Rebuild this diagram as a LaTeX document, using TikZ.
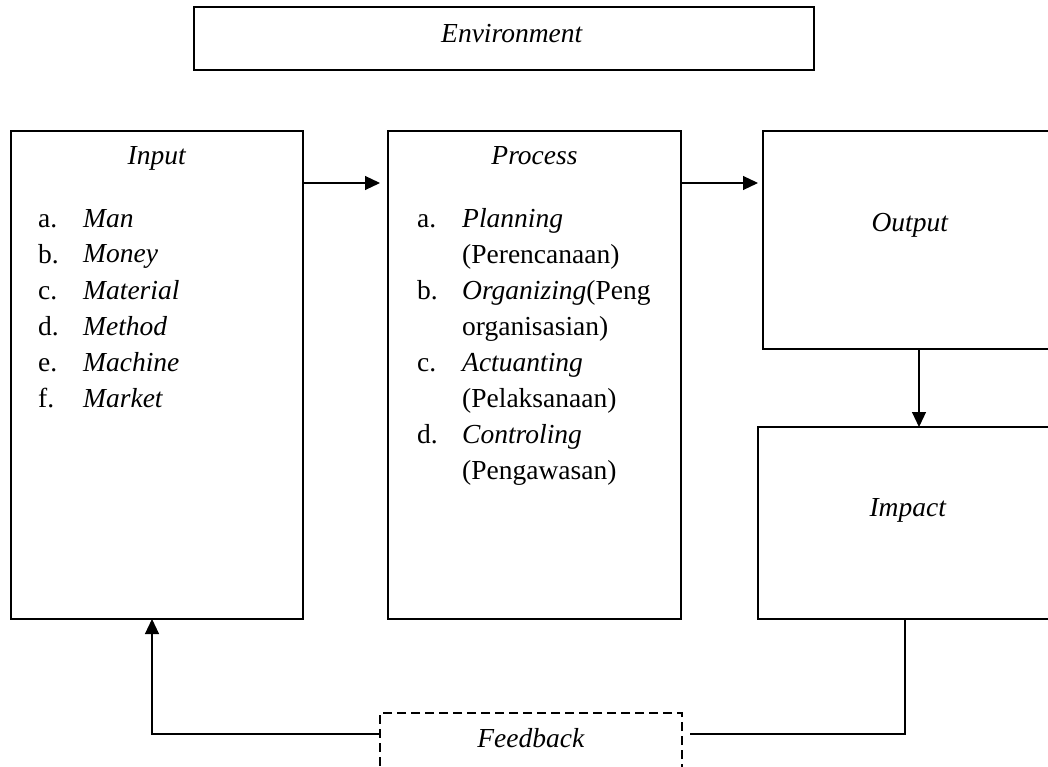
\documentclass[tikz,border=0pt]{standalone}
\usepackage{fontspec}
\setmainfont{Liberation Serif}
\usetikzlibrary{arrows.meta,positioning}

\begin{document}
\begin{tikzpicture}[x=1pt,y=-1pt,every node/.style={font=\fontsize{27.5}{36}\selectfont},
    sysbox/.style={draw,line width=1.3pt,minimum width=294pt,inner sep=0pt,outer sep=0pt},
    arr/.style={-{Triangle[length=15pt,width=14pt]},line width=1.1pt},
    lst/.style={anchor=base west,inner sep=0pt,align=left}]
  \useasboundingbox (0,0) rectangle (1048,767);
  % boxes
  \node[sysbox,minimum width=620pt,minimum height=63pt] (env) at (504,38.5) {};
  \node[sysbox,minimum width=292pt,minimum height=488pt,anchor=north west] (inbox) at (11,131) {};
  \node[sysbox,minimum width=293pt,minimum height=488pt,right=85pt of inbox] (prbox) {};
  \node[sysbox,minimum height=218pt,right=82pt of prbox.north east,anchor=north west] (outbox) {};
  \node[sysbox,minimum height=192pt,right=77pt of prbox.south east,anchor=south west] (impbox) {};
  \node[sysbox,dash pattern=on 9pt off 5pt,minimum width=302pt,minimum height=80pt,
        below=94pt of prbox.south west,anchor=north west,xshift=-8pt] (fbbox) {};
  % texts
  \node[anchor=base] (envtxt) at ([xshift=8pt,yshift=-36pt]env.north) {\textit{Environment}};
  \node[anchor=base] (intxt)  at ([yshift=-34pt]inbox.north) {\textit{Input}};
  \node[anchor=base] (prtxt)  at ([yshift=-34pt]prbox.north) {\textit{Process}};
  \node[anchor=base] (outtxt) at ([yshift=-100pt]outbox.north) {\textit{Output}};
  \node[anchor=base] (imptxt) at ([xshift=3pt,yshift=-89pt]impbox.north) {\textit{Impact}};
  \node[anchor=base] (fbtxt)  at ([yshift=-34pt]fbbox.north) {\textit{Feedback}};
  \node[lst] (inlist) at ([xshift=27pt,yshift=-96pt]inbox.north west)
    {\begin{tabular}[t]{@{}p{45pt}@{}l@{}}
       a. & \textit{Man}\\
       b. & \textit{Money}\\
       c. & \textit{Material}\\
       d. & \textit{Method}\\
       e. & \textit{Machine}\\
       f. & \textit{Market}
     \end{tabular}};
  \node[lst] (prlist) at ([xshift=29pt,yshift=-96pt]prbox.north west)
    {\begin{tabular}[t]{@{}p{45pt}@{}l@{}}
       a. & \textit{Planning}\\
          & (Perencanaan)\\
       b. & \textit{Organizing}(Peng\\
          & organisasian)\\
       c. & \textit{Actuanting}\\
          & (Pelaksanaan)\\
       d. & \textit{Controling}\\
          & (Pengawasan)
     \end{tabular}};
  % connectors
  \draw[arr,shorten >=8pt] ([yshift=-52pt]inbox.north east) -- ([yshift=-52pt]prbox.north west);
  \draw[arr,shorten >=5pt] ([yshift=-52pt]prbox.north east) -- ([yshift=-52pt]outbox.north west);
  \draw[arr] ([xshift=9pt]outbox.south) -- ([xshift=9pt]outbox.south |- impbox.north);
  \draw[line width=1.1pt] (impbox.south) |- ([xshift=8pt,yshift=-21pt]fbbox.north east);
  \draw[arr] ([yshift=-21pt]fbbox.north west) -| ([xshift=-5pt]inbox.south);
\end{tikzpicture}
\end{document}
